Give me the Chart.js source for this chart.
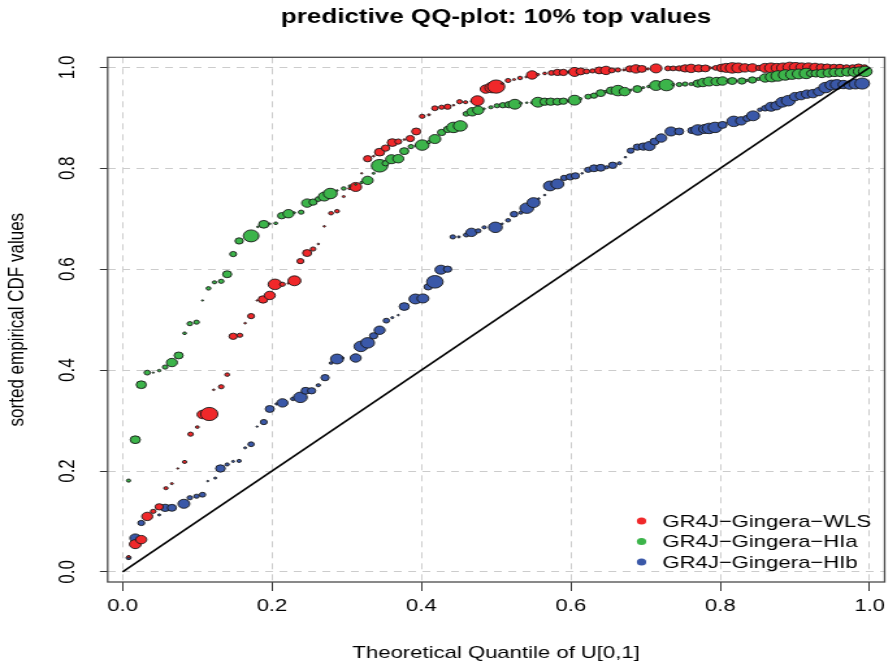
<!DOCTYPE html>
<html>
<head>
<meta charset="utf-8">
<script src="https://cdn.jsdelivr.net/npm/chart.js@4.4.0/dist/chart.umd.min.js"></script>
<style>
  html, body { margin: 0; padding: 0; background: #fff; overflow: hidden; }
  /* the reference picture is stretched sideways, so the chart is drawn narrow and widened */
  #wrap { width: 688px; height: 671px; transform: scaleX(1.3); transform-origin: 0 0; }
</style>
</head>
<body>
<div id="wrap"><canvas id="qq"></canvas></div>
<script>
// theoretical quantile (x), sorted empirical CDF (y), marker weight (w)
var wlsX = [0.008,0.017,0.025,0.033,0.041,0.049,0.058,0.066,0.074,0.083,0.091,0.100,0.107,0.116,0.122,0.132,0.140,0.148,0.157,0.164,
  0.172,0.180,0.188,0.197,0.204,0.214,0.222,0.230,0.238,0.247,0.255,0.262,0.270,0.279,0.287,0.296,0.304,0.312,0.320,0.328,
  0.336,0.344,0.352,0.361,0.369,0.377,0.385,0.393,0.401,0.410,0.418,0.427,0.435,0.443,0.451,0.459,0.467,0.475,0.486,0.494,
  0.500,0.508,0.516,0.524,0.532,0.540,0.548,0.556,0.565,0.574,0.582,0.590,0.597,0.605,0.613,0.621,0.629,0.638,0.647,0.655,
  0.663,0.671,0.679,0.687,0.695,0.703,0.714,0.730,0.737,0.745,0.753,0.761,0.771,0.780,0.787,0.794,0.802,0.808,0.816,0.824,
  0.833,0.843,0.852,0.860,0.868,0.876,0.884,0.893,0.901,0.909,0.918,0.927,0.935,0.943,0.952,0.960,0.969,0.977,0.985,0.993];
var wlsY = [0.030,0.055,0.064,0.110,0.120,0.129,0.166,0.175,0.205,0.218,0.273,0.287,0.312,0.313,0.361,0.367,0.391,0.467,0.469,0.493,
  0.507,0.538,0.540,0.548,0.570,0.570,0.572,0.577,0.616,0.632,0.640,0.650,0.685,0.711,0.715,0.744,0.760,0.763,0.790,0.819,
  0.824,0.832,0.840,0.851,0.853,0.857,0.859,0.873,0.903,0.906,0.919,0.921,0.922,0.925,0.932,0.931,0.933,0.934,0.957,0.960,
  0.962,0.968,0.974,0.976,0.979,0.981,0.985,0.986,0.988,0.989,0.990,0.990,0.991,0.991,0.992,0.992,0.993,0.994,0.994,0.994,
  0.995,0.995,0.997,0.997,0.997,0.997,0.998,0.998,0.998,0.998,0.998,0.998,0.998,0.998,0.999,0.999,0.999,0.999,0.999,0.999,
  0.999,0.999,0.999,0.999,0.999,0.999,0.999,1.000,1.000,1.000,1.000,1.000,1.000,1.000,1.000,1.000,1.000,1.000,1.000,1.000];
var wlsW = [1.2,4.3,4.0,4.0,2.0,3.0,1.5,1.0,0.7,1.5,2.0,1.3,4.0,6.3,0.8,2.0,1.7,3.0,2.0,0.8,
  2.5,0.7,3.5,4.0,5.0,2.0,0.8,4.7,2.5,3.3,2.0,0.8,0.8,1.7,1.7,1.0,1.2,4.3,0.7,3.0,
  0.8,3.7,3.0,3.7,2.5,0.8,3.0,3.3,2.0,1.0,2.3,2.0,2.5,0.8,2.0,1.5,0.8,4.7,4.0,5.0,
  6.3,0.8,2.0,1.0,1.7,0.8,4.0,1.0,1.3,2.3,3.0,3.0,1.0,4.3,3.3,2.3,2.0,3.3,4.0,2.3,
  2.0,1.0,3.0,4.0,3.3,1.0,4.3,2.3,2.3,2.5,3.5,4.0,3.5,3.3,1.0,2.3,3.7,4.3,5.0,4.7,
  4.0,4.0,2.5,4.3,4.7,4.3,4.7,5.0,4.7,4.3,4.3,4.0,3.5,3.3,3.0,3.0,2.5,2.5,3.3,2.5];

var hiaX = [0.008,0.017,0.025,0.033,0.041,0.049,0.057,0.066,0.075,0.083,0.090,0.099,0.107,0.115,0.123,0.132,0.140,0.148,0.156,0.172,
  0.181,0.189,0.197,0.205,0.213,0.222,0.230,0.239,0.247,0.255,0.262,0.270,0.278,0.287,0.296,0.304,0.312,0.320,0.328,0.336,
  0.344,0.352,0.360,0.369,0.377,0.386,0.393,0.401,0.410,0.418,0.427,0.435,0.443,0.452,0.460,0.468,0.476,0.484,0.493,0.501,
  0.509,0.517,0.525,0.533,0.541,0.548,0.556,0.565,0.573,0.582,0.590,0.597,0.605,0.613,0.623,0.631,0.640,0.647,0.654,0.663,
  0.672,0.680,0.689,0.697,0.704,0.714,0.728,0.737,0.745,0.753,0.761,0.770,0.777,0.785,0.795,0.803,0.810,0.816,0.829,0.836,
  0.843,0.851,0.860,0.869,0.877,0.887,0.896,0.905,0.915,0.921,0.928,0.936,0.945,0.953,0.961,0.970,0.979,0.986,0.994];
var hiaY = [0.181,0.262,0.371,0.395,0.395,0.399,0.406,0.415,0.429,0.473,0.492,0.495,0.538,0.562,0.574,0.576,0.590,0.630,0.656,0.666,
  0.684,0.689,0.690,0.691,0.706,0.710,0.712,0.713,0.731,0.733,0.739,0.744,0.750,0.756,0.760,0.765,0.768,0.772,0.776,0.790,
  0.805,0.810,0.818,0.819,0.834,0.843,0.845,0.846,0.852,0.858,0.871,0.877,0.881,0.884,0.908,0.912,0.915,0.918,0.921,0.924,
  0.925,0.926,0.927,0.929,0.930,0.930,0.931,0.932,0.932,0.932,0.933,0.934,0.935,0.938,0.942,0.944,0.949,0.952,0.954,0.954,
  0.952,0.955,0.957,0.960,0.962,0.964,0.965,0.966,0.966,0.967,0.967,0.968,0.970,0.972,0.972,0.973,0.973,0.973,0.973,0.974,
  0.975,0.977,0.979,0.981,0.983,0.985,0.986,0.987,0.988,0.988,0.988,0.988,0.989,0.990,0.990,0.991,0.991,0.992,0.992];
var hiaW = [1.5,3.7,3.7,2.3,0.7,1.2,2.0,4.0,3.3,1.3,2.0,2.0,0.7,1.7,1.5,2.0,3.3,2.5,3.0,5.7,
  0.8,3.7,0.8,1.3,3.0,4.0,0.8,2.0,4.0,3.0,2.3,4.3,5.0,0.8,1.7,1.0,0.8,1.2,4.0,1.0,
  6.0,2.5,4.3,4.0,3.3,2.0,1.0,5.0,1.5,4.3,3.0,3.0,5.0,5.0,2.3,4.0,4.0,0.8,1.5,2.0,
  2.5,3.0,4.7,1.0,0.8,1.0,4.7,3.5,3.5,3.3,3.0,1.0,4.7,1.0,2.3,2.5,3.3,1.2,3.5,5.0,
  4.0,1.0,3.3,1.0,1.2,4.7,5.5,1.0,2.0,2.0,1.5,3.5,4.0,4.3,4.0,4.0,1.0,3.3,3.0,1.0,
  3.0,1.5,4.0,4.7,5.0,5.0,4.7,4.7,5.0,3.0,3.5,4.0,4.0,4.0,4.0,4.0,4.3,4.3,5.0];

var hibX = [0.008,0.017,0.025,0.049,0.057,0.066,0.082,0.090,0.099,0.107,0.114,0.124,0.131,0.140,0.148,0.156,0.164,0.172,0.180,0.189,
  0.197,0.206,0.214,0.228,0.238,0.245,0.253,0.262,0.271,0.279,0.287,0.295,0.312,0.319,0.328,0.336,0.344,0.353,0.361,0.369,
  0.377,0.392,0.402,0.409,0.418,0.426,0.435,0.442,0.450,0.460,0.467,0.476,0.484,0.499,0.508,0.516,0.524,0.533,0.541,0.550,
  0.557,0.565,0.572,0.582,0.591,0.599,0.606,0.615,0.623,0.631,0.640,0.648,0.656,0.665,0.673,0.680,0.689,0.697,0.705,0.712,
  0.721,0.734,0.745,0.762,0.770,0.779,0.785,0.793,0.803,0.818,0.828,0.836,0.844,0.853,0.860,0.868,0.875,0.883,0.891,0.900,
  0.908,0.916,0.924,0.932,0.941,0.949,0.956,0.965,0.973,0.981,0.990];
var hibY = [0.028,0.067,0.097,0.113,0.127,0.127,0.135,0.147,0.150,0.153,0.180,0.186,0.205,0.213,0.219,0.220,0.246,0.253,0.288,0.297,
  0.323,0.333,0.335,0.343,0.346,0.359,0.359,0.370,0.385,0.414,0.422,0.424,0.424,0.447,0.454,0.468,0.479,0.498,0.504,0.509,
  0.526,0.541,0.542,0.565,0.575,0.599,0.600,0.664,0.664,0.668,0.673,0.676,0.683,0.683,0.690,0.697,0.709,0.712,0.721,0.732,
  0.740,0.747,0.765,0.769,0.781,0.783,0.785,0.790,0.797,0.800,0.801,0.802,0.806,0.810,0.822,0.835,0.842,0.843,0.844,0.853,
  0.860,0.873,0.873,0.875,0.876,0.878,0.879,0.881,0.886,0.893,0.894,0.899,0.904,0.916,0.919,0.922,0.924,0.931,0.934,0.942,
  0.944,0.947,0.948,0.952,0.960,0.965,0.966,0.966,0.965,0.967,0.968];
var hibW = [1.8,4.0,2.5,1.0,3.5,3.3,4.3,2.0,2.0,2.3,0.7,1.0,3.5,1.5,1.0,1.5,1.0,2.3,0.7,2.5,
  3.3,1.0,4.0,1.7,5.0,3.3,3.0,1.5,3.0,1.3,4.7,0.8,4.0,5.0,5.0,3.0,4.0,2.3,1.0,0.7,
  3.7,4.7,4.3,3.0,6.0,4.3,3.0,2.0,1.0,2.0,4.0,2.0,1.5,5.0,0.8,1.7,2.7,1.5,5.0,4.7,
  0.8,0.8,4.7,4.7,2.5,3.0,3.0,0.8,2.5,3.3,3.3,1.5,3.0,1.5,0.8,2.5,3.0,3.5,4.3,3.3,
  4.0,4.3,3.3,3.0,5.0,4.3,5.0,5.0,3.3,5.0,4.0,3.0,4.7,1.7,2.7,4.3,4.0,4.7,5.0,4.0,
  4.0,4.0,4.0,4.0,5.0,4.7,4.7,4.0,4.0,4.7,5.3];

var refX = [0, 1];
var refY = [0, 1];
var axisTicks = [0, 0.2, 0.4, 0.6, 0.8, 1.0];

var seriesNames = ['GR4J\u2212Gingera\u2212WLS', 'GR4J\u2212Gingera\u2212HIa', 'GR4J\u2212Gingera\u2212HIb'];
var seriesColors = ['#f0282a', '#3cb44a', '#3a58a8'];

var FONT = '"Liberation Sans", Arial, Helvetica, sans-serif';
var SIZE_SCALE = 1.05;

Chart.defaults.font.family = FONT;
Chart.defaults.color = '#000';

function toPoints(xs, ys, ws) {
  var out = [];
  for (var i = 0; i < xs.length; i++) out.push({x: xs[i], y: ys[i], w: ws ? ws[i] : 0});
  return out;
}

function dotSeries(label, color, xs, ys, ws, order) {
  return {
    label: label,
    data: toPoints(xs, ys, ws),
    backgroundColor: color,
    borderColor: '#1a1a1a',
    borderWidth: 0.9,
    pointRadius: function(c) { return c.raw ? c.raw.w * SIZE_SCALE : 0; },
    order: order
  };
}

// frame round the plotting region
var frame = {
  id: 'frame',
  afterDraw: function(chart) {
    var a = chart.chartArea, ctx = chart.ctx;
    ctx.save();
    ctx.strokeStyle = '#4a4a4a';
    ctx.lineWidth = 1.3;
    ctx.strokeRect(a.left, a.top, a.right - a.left, a.bottom - a.top);
    ctx.restore();
  }
};

// y tick labels, turned like the R axis
var yLabels = {
  id: 'yLabels',
  afterDraw: function(chart) {
    var ctx = chart.ctx, y = chart.scales.y;
    ctx.save();
    ctx.font = '17px ' + FONT;
    ctx.fillStyle = '#000';
    ctx.textAlign = 'center';
    ctx.textBaseline = 'middle';
    y.ticks.forEach(function(t) {
      ctx.save();
      ctx.translate(y.right - 30, y.getPixelForValue(t.value));
      ctx.rotate(-Math.PI / 2);
      ctx.fillText(Number(t.value).toFixed(1), 0, 0);
      ctx.restore();
    });
    ctx.restore();
  }
};

// legend inside the plot, bottom right
var legendIn = {
  id: 'legendIn',
  afterDraw: function(chart) {
    var ctx = chart.ctx, a = chart.chartArea;
    ctx.save();
    ctx.font = '17px ' + FONT;
    ctx.textBaseline = 'middle';
    ctx.textAlign = 'left';
    for (var i = 0; i < seriesNames.length; i++) {
      var yy = a.bottom - 61 + i * 20.5;
      ctx.fillStyle = seriesColors[i];
      ctx.beginPath();
      ctx.arc(a.right - 187, yy, 3.6, 0, Math.PI * 2);
      ctx.fill();
      ctx.fillStyle = '#000';
      ctx.fillText(seriesNames[i], a.right - 171, yy + 1);
    }
    ctx.restore();
  }
};

var ctx = document.getElementById('qq');

var qqChart = new Chart(ctx, {
  type: 'scatter',
  data: {
    datasets: [
      {
        type: 'line',
        label: 'ref',
        data: toPoints(refX, refY),
        borderColor: '#000',
        borderWidth: 1.6,
        pointRadius: 0,
        showLine: true,
        order: 0
      },
      dotSeries(seriesNames[0], seriesColors[0], wlsX, wlsY, wlsW, 2),
      dotSeries(seriesNames[1], seriesColors[1], hiaX, hiaY, hiaW, 1),
      dotSeries(seriesNames[2], seriesColors[2], hibX, hibY, hibW, 3)
    ]
  },
  options: {
    responsive: true,
    maintainAspectRatio: false,
    animation: false,
    events: [],
    layout: { padding: { left: 0, right: 5.7, top: 0, bottom: 0 } },
    plugins: {
      legend: { display: false },
      tooltip: { enabled: false },
      title: {
        display: true,
        fullSize: false,
        text: 'predictive QQ-plot: 10% top values',
        color: '#000',
        font: { size: 20, weight: 'bold' },
        padding: { top: 5, bottom: 28.3 }
      }
    },
    scales: {
      x: {
        type: 'linear',
        min: -0.02,
        max: 1.02,
        afterBuildTicks: function(s) { s.ticks = axisTicks.map(function(v) { return {value: v}; }); },
        afterFit: function(s) { s.height = 89; },
        ticks: {
          autoSkip: false,
          maxRotation: 0,
          padding: 5,
          font: { size: 17 },
          color: '#000',
          callback: function(v) { return Number(v).toFixed(1); }
        },
        grid: { color: '#cccccc', lineWidth: 1, tickLength: 9, tickColor: '#333', tickWidth: 1 },
        border: { display: false, dash: [6, 5] },
        title: {
          display: true,
          text: 'Theoretical Quantile of U[0,1]',
          color: '#000',
          font: { size: 17 },
          padding: { top: 7, bottom: 7 }
        }
      },
      y: {
        type: 'linear',
        min: -0.02,
        max: 1.02,
        afterBuildTicks: function(s) { s.ticks = axisTicks.map(function(v) { return {value: v}; }); },
        afterFit: function(s) { s.width = 82.8; },
        ticks: { display: false },
        grid: { color: '#cccccc', lineWidth: 1, tickLength: 6, tickColor: '#333', tickWidth: 1 },
        border: { display: false, dash: [6, 5] },
        title: {
          display: true,
          text: 'sorted empirical CDF values',
          color: '#000',
          font: { size: 17 },
          padding: { top: 3, bottom: 3 }
        }
      }
    }
  },
  plugins: [frame, yLabels, legendIn]
});
</script>
</body>
</html>
